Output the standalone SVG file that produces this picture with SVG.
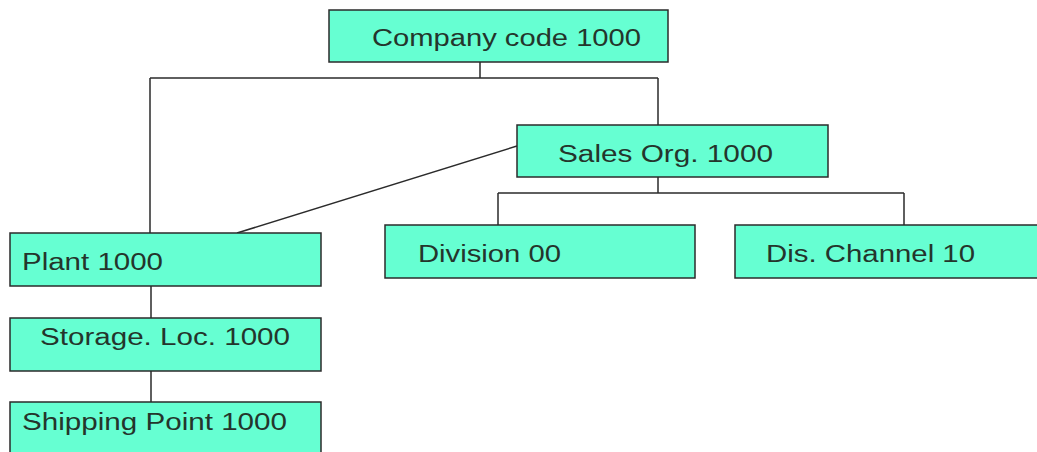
<svg xmlns="http://www.w3.org/2000/svg" width="1037" height="452" viewBox="0 0 1037 452">
<style>
.box{fill:#66ffd2;stroke:#2b2b2b;stroke-width:1.5}
.lbl{font-family:"Liberation Sans",Arial,sans-serif;font-size:23px;fill:#24352c}
.con{fill:none;stroke:#2b2b2b;stroke-width:1.5}
</style>
<rect width="1037" height="452" fill="#ffffff"/>
<g id="connectors">
<path class="con" d="M480,62 V78 M150,78 H658 M150,78 V233 M658,78 V125"/>
<path class="con" d="M658,177 V193 M498,193 H904 M498,193 V225 M904,193 V225"/>
<path class="con" d="M517,146 L237,233"/>
<path class="con" d="M151,286 V318 M151,371 V402"/>
</g>
<g id="company"><rect class="box" x="329" y="10" width="339" height="52"/><text class="lbl" x="372" y="46" textLength="269" lengthAdjust="spacingAndGlyphs">Company code 1000</text></g>
<g id="sales"><rect class="box" x="517" y="125" width="311" height="52"/><text class="lbl" x="558" y="162" textLength="215" lengthAdjust="spacingAndGlyphs">Sales Org. 1000</text></g>
<g id="division"><rect class="box" x="385" y="225" width="310" height="53"/><text class="lbl" x="418" y="262" textLength="143" lengthAdjust="spacingAndGlyphs">Division 00</text></g>
<g id="channel"><rect class="box" x="735" y="225" width="310" height="53"/><text class="lbl" x="766" y="262" textLength="209" lengthAdjust="spacingAndGlyphs">Dis. Channel 10</text></g>
<g id="plant"><rect class="box" x="10" y="233" width="311" height="53"/><text class="lbl" x="22" y="270" textLength="141" lengthAdjust="spacingAndGlyphs">Plant 1000</text></g>
<g id="storage"><rect class="box" x="10" y="318" width="311" height="53"/><text class="lbl" x="40" y="345" textLength="250" lengthAdjust="spacingAndGlyphs">Storage. Loc. 1000</text></g>
<g id="shipping"><rect class="box" x="10" y="402" width="311" height="60"/><text class="lbl" x="22" y="430" textLength="265" lengthAdjust="spacingAndGlyphs">Shipping Point 1000</text></g>
</svg>
